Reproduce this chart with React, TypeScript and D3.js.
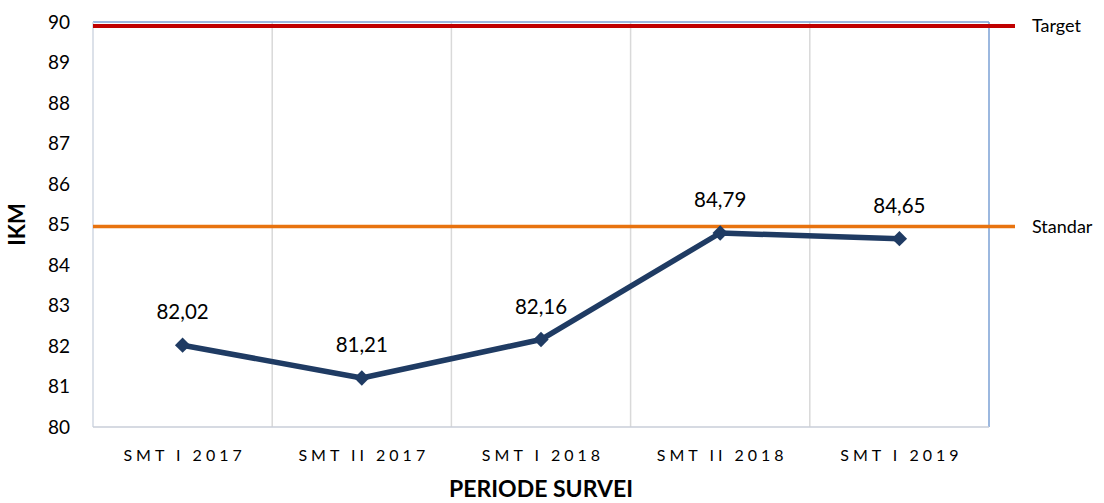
import { useEffect, useRef } from 'react';
import * as d3 from 'd3';

const periods = ['SMT I 2017', 'SMT II 2017', 'SMT I 2018', 'SMT II 2018', 'SMT I 2019'];
const ikmValues = [82.02, 81.21, 82.16, 84.79, 84.65];
const targetValue = 89.9;
const standarValue = 84.95;
const yTicks = [80, 81, 82, 83, 84, 85, 86, 87, 88, 89, 90];

const App = () => {
  const ref = useRef<SVGSVGElement>(null);

  useEffect(() => {
    const W = 1104;
    const H = 503;
    const margin = { top: 22, right: 115, bottom: 76, left: 93 };
    const width = W - margin.left - margin.right;
    const height = H - margin.top - margin.bottom;
    const font = 'Lato, "Open Sans", sans-serif';

    const svg = d3.select(ref.current);
    svg.selectAll('*').remove();
    const g = svg.append('g').attr('transform', `translate(${margin.left},${margin.top})`);

    const x = d3.scaleBand().domain(periods).range([0, width]);
    const y = d3.scaleLinear().domain([80, 90]).range([height, 0]);

    // vertical gridlines at category boundaries
    g.append('g')
      .selectAll('line')
      .data(periods.slice(1))
      .enter()
      .append('line')
      .attr('x1', (d) => x(d)!)
      .attr('x2', (d) => x(d)!)
      .attr('y1', 0)
      .attr('y2', height)
      .attr('stroke', '#d9d9d9')
      .attr('stroke-width', 1.5);

    // plot border
    g.append('line').attr('x1', 0).attr('x2', width).attr('y1', 0).attr('y2', 0)
      .attr('stroke', '#7ba0d4').attr('stroke-width', 1.5);
    g.append('line').attr('x1', width).attr('x2', width).attr('y1', 0).attr('y2', height)
      .attr('stroke', '#7ba0d4').attr('stroke-width', 1.5);
    g.append('line').attr('x1', 0).attr('x2', 0).attr('y1', 0).attr('y2', height)
      .attr('stroke', '#d0d7e2').attr('stroke-width', 1.5);
    g.append('line').attr('x1', 0).attr('x2', width).attr('y1', height).attr('y2', height)
      .attr('stroke', '#c8ced8').attr('stroke-width', 1.5);

    // y tick labels
    g.append('g')
      .selectAll('text')
      .data(yTicks)
      .enter()
      .append('text')
      .attr('x', -23)
      .attr('y', (d) => y(d))
      .attr('dy', '0.35em')
      .attr('text-anchor', 'end')
      .style('font-family', font)
      .style('font-size', '19px')
      .style('fill', '#000')
      .text((d) => d);

    // x tick labels
    g.append('g')
      .selectAll('text')
      .data(periods)
      .enter()
      .append('text')
      .attr('x', (d) => x(d)! + x.bandwidth() / 2 + 2)
      .attr('y', height + 34)
      .attr('text-anchor', 'middle')
      .style('font-family', font)
      .style('font-size', '16px')
      .style('letter-spacing', '4px')
      .style('fill', '#000')
      .text((d) => d);

    // reference lines
    const refs = [
      { v: targetValue, label: 'Target', color: '#c00000', w: 4 },
      { v: standarValue, label: 'Standar', color: '#e8730f', w: 3.5 },
    ];
    refs.forEach((r) => {
      g.append('line')
        .attr('x1', 0)
        .attr('x2', width + 26)
        .attr('y1', y(r.v))
        .attr('y2', y(r.v))
        .attr('stroke', r.color)
        .attr('stroke-width', r.w);
      g.append('text')
        .attr('x', width + 43)
        .attr('y', y(r.v))
        .attr('dy', '0.35em')
        .style('font-family', font)
        .style('font-size', '18px')
        .style('fill', '#000')
        .text(r.label);
    });

    // IKM line
    const pts = periods.map((p, i) => ({ p, v: ikmValues[i] }));
    const line = d3.line<{ p: string; v: number }>()
      .x((d) => x(d.p)! + x.bandwidth() / 2)
      .y((d) => y(d.v));
    g.append('path')
      .datum(pts)
      .attr('d', line)
      .attr('fill', 'none')
      .attr('stroke', '#1f3b63')
      .attr('stroke-width', 5.5)
      .attr('stroke-linejoin', 'round');

    const diamond = d3.symbol().type(d3.symbolDiamond2).size(150);
    g.append('g')
      .selectAll('path')
      .data(pts)
      .enter()
      .append('path')
      .attr('d', diamond)
      .attr('transform', (d) => `translate(${x(d.p)! + x.bandwidth() / 2},${y(d.v)})`)
      .attr('fill', '#1f3b63');

    // data labels
    g.append('g')
      .selectAll('text')
      .data(pts)
      .enter()
      .append('text')
      .attr('x', (d) => x(d.p)! + x.bandwidth() / 2)
      .attr('y', (d) => y(d.v) - 26)
      .attr('text-anchor', 'middle')
      .style('font-family', font)
      .style('font-size', '20.5px')
      .style('fill', '#000')
      .text((d) => d.v.toFixed(2).replace('.', ','));

    // axis titles
    svg.append('text')
      .attr('x', margin.left + width / 2)
      .attr('y', 497)
      .attr('text-anchor', 'middle')
      .style('font-family', font)
      .style('font-size', '23px')
      .style('font-weight', 'bold')
      .style('fill', '#000')
      .text('PERIODE SURVEI');

    svg.append('text')
      .attr('transform', `translate(25,${margin.top + height / 2}) rotate(-90)`)
      .attr('text-anchor', 'middle')
      .style('font-family', font)
      .style('font-size', '22px')
      .style('font-weight', 'bold')
      .style('fill', '#000')
      .text('IKM');
  }, []);

  return (
    <svg
      ref={ref}
      width={1104}
      height={503}
      style={{ position: 'absolute', left: 0, top: 0, background: '#fff' }}
    ></svg>
  );
};

export default App;
